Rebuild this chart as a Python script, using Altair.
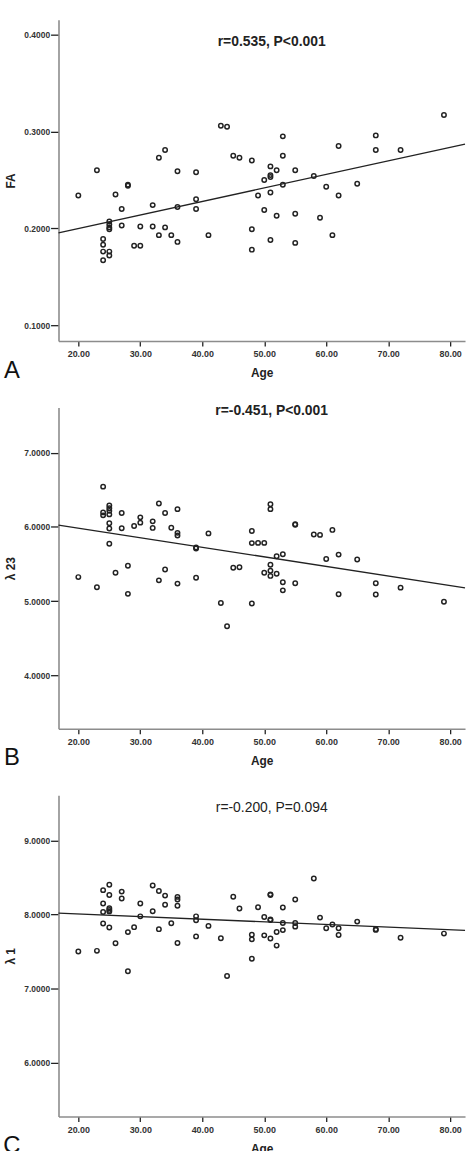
import altair as alt
import pandas as pd

# ---------------- data ----------------
age_A = [20, 23, 24, 24, 24, 24, 25, 25, 25, 25, 25, 25, 26, 27, 27, 28, 28, 29, 30, 30,
         32, 32, 33, 33, 34, 34, 35, 36, 36, 36, 39, 39, 39, 41, 43, 44, 45, 46, 48, 48,
         48, 49, 50, 50, 51, 51, 51, 51, 51, 52, 52, 53, 53, 53, 55, 55, 55, 58, 59, 60,
         61, 62, 62, 65, 68, 68, 72, 79]
fa = [0.234, 0.260, 0.189, 0.183, 0.176, 0.167, 0.207, 0.204, 0.201, 0.199, 0.176, 0.172,
      0.235, 0.220, 0.203, 0.245, 0.244, 0.182, 0.182, 0.202, 0.224, 0.202, 0.273, 0.193,
      0.281, 0.201, 0.193, 0.259, 0.222, 0.186, 0.258, 0.230, 0.220, 0.193, 0.306, 0.305,
      0.275, 0.273, 0.270, 0.199, 0.178, 0.234, 0.250, 0.219, 0.264, 0.255, 0.253, 0.237,
      0.188, 0.260, 0.213, 0.295, 0.275, 0.245, 0.260, 0.215, 0.185, 0.254, 0.211, 0.243,
      0.193, 0.285, 0.234, 0.246, 0.296, 0.281, 0.281, 0.317]

age_B = [20, 23, 24, 24, 24, 25, 25, 25, 25, 25, 25, 25, 26, 27, 27, 28, 28, 29, 30, 30,
         32, 32, 33, 33, 34, 34, 35, 36, 36, 36, 36, 39, 39, 39, 41, 43, 44, 45, 46, 48,
         48, 48, 49, 50, 50, 51, 51, 51, 51, 51, 52, 52, 53, 53, 53, 55, 55, 55, 58, 59,
         60, 61, 62, 62, 65, 68, 68, 72, 79]
l23 = [5.324, 5.187, 6.543, 6.196, 6.156, 6.289, 6.253, 6.217, 6.169, 6.049, 5.978, 5.773,
       5.382, 6.187, 5.982, 5.478, 5.098, 6.013, 6.129, 6.058, 6.075, 5.987, 6.316, 5.280,
       6.187, 5.427, 5.990, 6.240, 5.920, 5.884, 5.236, 5.724, 5.710, 5.316, 5.913, 4.975,
       4.662, 5.449, 5.457, 5.945, 5.782, 4.969, 5.785, 5.785, 5.382, 6.307, 6.240, 5.490,
       5.409, 5.340, 5.604, 5.370, 5.631, 5.255, 5.145, 6.036, 6.030, 5.240, 5.898, 5.893,
       5.569, 5.960, 5.627, 5.093, 5.560, 5.240, 5.089, 5.182, 4.991]

age_C = [20, 23, 24, 24, 24, 24, 25, 25, 25, 25, 25, 25, 26, 27, 27, 28, 28, 29, 30, 30,
         32, 32, 33, 33, 34, 34, 35, 36, 36, 36, 36, 39, 39, 39, 41, 43, 44, 45, 46, 48,
         48, 48, 49, 50, 50, 51, 51, 51, 51, 51, 52, 52, 53, 53, 53, 55, 55, 55, 58, 59,
         60, 61, 62, 62, 65, 68, 68, 72, 79]
l1 = [7.498, 7.507, 8.327, 8.147, 8.031, 7.876, 8.400, 8.262, 8.084, 8.060, 8.040, 7.822,
      7.609, 8.307, 8.213, 7.760, 7.231, 7.827, 8.147, 7.973, 8.389, 8.042, 8.316, 7.800,
      8.253, 8.129, 7.880, 8.236, 8.200, 8.116, 7.613, 7.973, 7.920, 7.702, 7.844, 7.678,
      7.168, 8.238, 8.078, 7.724, 7.662, 7.400, 8.095, 7.964, 7.716, 8.270, 8.262, 7.930,
      7.922, 7.674, 7.762, 7.578, 8.093, 7.884, 7.787, 8.200, 7.884, 7.834, 8.484, 7.956,
      7.813, 7.862, 7.813, 7.720, 7.902, 7.800, 7.790, 7.684, 7.740]

x_ticks = [20, 30, 40, 50, 60, 70, 80]
x_domain = [16.8, 82.4]

panels = [
    dict(age=age_A, val=fa, ytitle="FA", ydomain=[0.0836, 0.4154], yticks=[0.1, 0.2, 0.3, 0.4],
         note="r=0.535, P<0.001", bold=True, letter="A", note_y=22),
    dict(age=age_B, val=l23, ytitle="λ 23", ydomain=[3.28, 7.61], yticks=[4, 5, 6, 7],
         note="r=-0.451, P<0.001", bold=True, letter="B", note_y=4),
    dict(age=age_C, val=l1, ytitle="λ 1", ydomain=[5.27, 9.61], yticks=[6, 7, 8, 9],
         note="r=-0.200, P=0.094", bold=False, letter="C", note_y=13),
]

W, H = 410, 324
FONT = "Liberation Sans"


def make_panel(p):
    df = pd.DataFrame({"age": p["age"], "val": p["val"]})
    xs = alt.X("age:Q", scale=alt.Scale(domain=x_domain, nice=False, zero=False),
               axis=alt.Axis(values=x_ticks, format=".2f", tickSize=5, tickColor="#222",
                             tickWidth=1.3, domainColor="#8c8c8c", domainWidth=1.6,
                             labelFont=FONT, labelFontSize=9, labelFontWeight="bold",
                             labelColor="#333", labelPadding=4, grid=False, title="Age",
                             titleFont=FONT, titleFontSize=12, titleFontWeight="bold",
                             titleColor="#222", titlePadding=9))
    ys = alt.Y("val:Q", scale=alt.Scale(domain=p["ydomain"], nice=False, zero=False),
               axis=alt.Axis(values=p["yticks"], format=".4f", tickSize=8, tickColor="#222",
                             tickWidth=1.3, domainColor="#8c8c8c", domainWidth=1.6,
                             labelFont=FONT, labelFontSize=8.5, labelFontWeight="bold",
                             labelColor="#333", labelPadding=1, grid=False,
                             title=p["ytitle"], titleFont=FONT, titleFontSize=12,
                             titleFontWeight="bold", titleColor="#222", titlePadding=6))
    base = alt.Chart(df)
    pts = base.mark_point(shape="circle", filled=False, size=20, strokeWidth=1.5,
                          color="#222", opacity=1).encode(x=xs, y=ys)
    line = base.transform_regression("age", "val", extent=x_domain).mark_line(
        color="#222", strokeWidth=1.3).encode(x="age:Q", y="val:Q")
    note = alt.Chart(pd.DataFrame({"t": [p["note"]]})).mark_text(
        font=FONT, fontSize=14, fontWeight="bold" if p["bold"] else "normal",
        color="#222", align="center", baseline="middle").encode(
        text="t:N", x=alt.value(215), y=alt.value(p["note_y"]))
    letter = alt.Chart(pd.DataFrame({"t": [p["letter"]]})).mark_text(
        font=FONT, fontSize=24, color="#111", align="center", baseline="middle").encode(
        text="t:N", x=alt.value(-47), y=alt.value(354))
    return alt.layer(pts, line, note, letter).properties(width=W, height=H)


chart = alt.vconcat(*[make_panel(p) for p in panels], spacing=67, bounds="flush").properties(
    padding={"left": 3, "top": 15, "right": 0, "bottom": 0},
    background="white",
).configure_view(stroke=None)

chart.save("out.html", embed_options={"renderer": "svg", "actions": False})
